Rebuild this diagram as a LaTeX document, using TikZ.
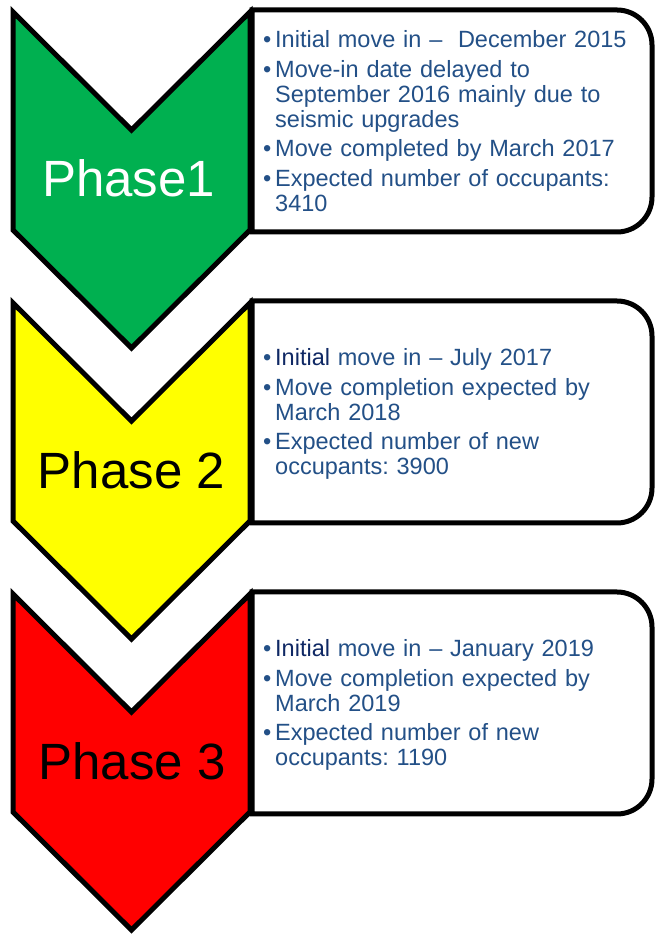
\documentclass[tikz,border=0pt]{standalone}
\usepackage{fontspec}
\setmainfont{Liberation Sans}
\definecolor{pgreen}{HTML}{00B050}
\definecolor{pyellow}{HTML}{FFFF00}
\definecolor{pred}{HTML}{FF0000}
\definecolor{txtblue}{RGB}{35,80,135}
\definecolor{navy}{RGB}{15,40,100}
\newcommand{\bstart}{\hangindent=12pt\hangafter=1\noindent\makebox[12pt][l]{•}}
\newcommand{\bnext}{\par\vspace{4.5pt}\bstart}
\newcommand{\chevron}[2]{%
  \draw[chev, fill=#2] (13,#1) -- (131.5,#1-118) -- (250,#1) -- (250,#1-218)
    -- (131.5,#1-336) -- (13,#1-218) -- cycle;}
\newcommand{\infobox}[1]{%
  \draw[ibox] (252,#1+2) -- (617,#1+2) arc[start angle=90,end angle=0,radius=35]
    -- (652,#1-185) arc[start angle=0,end angle=-90,radius=35] -- (252,#1-220) -- cycle;}
\tikzset{
  chev/.style={draw=black, line width=5pt, line join=miter},
  ibox/.style={draw=black, line width=5pt, fill=white},
  phase/.style={font=\fontsize{51}{51}\selectfont, anchor=base, inner sep=0pt},
  info/.style={anchor=base west, inner sep=0pt, text width=385pt, align=left,
    text=txtblue, font=\fontsize{23.5}{25}\selectfont\frenchspacing}
}
\begin{document}
\begin{tikzpicture}[x=1pt,y=1pt]
\useasboundingbox (0,0) rectangle (655,934);
% phase 1
\chevron{922}{pgreen}
\infobox{922}
\node[phase, text=white] (p1) at (128.5,737) {Phase1};
\node[info] (t1) at (263,886) {\fontsize{23.5}{25}\selectfont\frenchspacing
  \bstart Initial move in –~~December 2015
  \bnext Move-in date delayed to\newline September 2016 mainly due to\newline seismic upgrades
  \bnext Move completed by March 2017
  \bnext Expected number of occupants:\newline 3410\par};
% phase 2
\chevron{631}{pyellow}
\infobox{631}
\node[phase, text=black] (p2) at (131.5,445) {Phase 2};
\node[info] (t2) at (263,568) {\fontsize{23.5}{25}\selectfont\frenchspacing
  \bstart {\color{navy}Initial} move in – July 2017
  \bnext Move completion expected by\newline March 2018
  \bnext Expected number of new\newline occupants: 3900\par};
% phase 3
\chevron{340}{pred}
\infobox{340}
\node[phase, text=black] (p3) at (132,154) {Phase 3};
\node[info] (t3) at (263,277) {\fontsize{23.5}{25}\selectfont\frenchspacing
  \bstart {\color{navy}Initial} move in – January 2019
  \bnext Move completion expected by\newline March 2019
  \bnext Expected number of new\newline occupants: 1190\par};
\end{tikzpicture}
\end{document}
